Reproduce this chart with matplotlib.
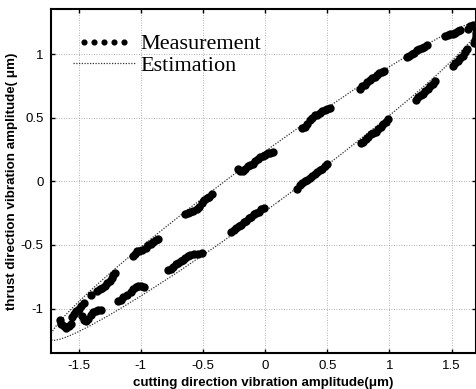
import matplotlib
matplotlib.use("Agg")
import matplotlib.pyplot as plt
from matplotlib.patches import Ellipse
from matplotlib.lines import Line2D
from matplotlib.legend_handler import HandlerLine2D

plt.rcParams['axes.unicode_minus'] = False

upper_x = [1.63, 1.65, 1.67, 1.69, 1.70, 1.70, 1.70, 1.69, 1.68,
           1.45, 1.47, 1.49, 1.51, 1.53, 1.55, 1.57,
           1.14, 1.16, 1.18, 1.20, 1.22, 1.24, 1.26, 1.28, 1.30,
           0.76, 0.78, 0.80, 0.82, 0.84, 0.86, 0.88, 0.90, 0.92, 0.94, 0.96,
           0.30, 0.32, 0.34, 0.36, 0.38, 0.40, 0.42, 0.44, 0.46, 0.48, 0.50, 0.52,
           -0.22, -0.20, -0.18, -0.16, -0.14, -0.12, -0.10, -0.08, -0.06, -0.04, -0.02, 0.00, 0.02, 0.04, 0.06,
           -0.64, -0.62, -0.60, -0.58, -0.55, -0.53, -0.51, -0.49, -0.47, -0.45, -0.43,
           -1.06, -1.05, -1.03, -1.01, -0.99, -0.96, -0.94, -0.92, -0.90, -0.88, -0.86,
           -1.40, -1.35, -1.33, -1.31, -1.29, -1.27, -1.25, -1.23, -1.22, -1.21,
           -1.65, -1.64, -1.62, -1.60, -1.58, -1.56, -1.55, -1.54, -1.52, -1.50, -1.48, -1.46]
upper_y = [1.20, 1.22, 1.23, 1.22, 1.20, 1.17, 1.14, 1.11, 1.09,
           1.14, 1.15, 1.16, 1.16, 1.17, 1.18, 1.19,
           0.98, 0.99, 1.00, 1.01, 1.03, 1.04, 1.05, 1.06, 1.07,
           0.73, 0.75, 0.76, 0.78, 0.80, 0.81, 0.82, 0.84, 0.85, 0.86, 0.87,
           0.42, 0.43, 0.45, 0.48, 0.50, 0.52, 0.52, 0.54, 0.55, 0.56, 0.57, 0.58,
           0.10, 0.08, 0.08, 0.10, 0.12, 0.13, 0.14, 0.16, 0.18, 0.19, 0.20, 0.21, 0.22, 0.22, 0.23,
           -0.26, -0.25, -0.24, -0.23, -0.22, -0.20, -0.17, -0.15, -0.13, -0.12, -0.10,
           -0.59, -0.57, -0.55, -0.55, -0.54, -0.52, -0.50, -0.49, -0.48, -0.46, -0.45,
           -0.89, -0.86, -0.85, -0.84, -0.82, -0.80, -0.78, -0.76, -0.74, -0.72,
           -1.09, -1.12, -1.14, -1.15, -1.14, -1.12, -1.07, -1.04, -1.02, -1.00, -0.98, -0.96]

lower_x = [1.51, 1.53, 1.55, 1.57, 1.59, 1.61, 1.62,
           1.21, 1.23, 1.25, 1.27, 1.29, 1.31, 1.33, 1.35, 1.37,
           0.77, 0.79, 0.81, 0.83, 0.85, 0.87, 0.89, 0.91, 0.93, 0.95, 0.97, 0.99,
           0.26, 0.28, 0.30, 0.32, 0.34, 0.36, 0.38, 0.40, 0.42, 0.44, 0.46, 0.48, 0.50,
           -0.27, -0.25, -0.23, -0.21, -0.19, -0.17, -0.15, -0.13, -0.11, -0.09, -0.07, -0.05, -0.03, -0.01,
           -0.78, -0.76, -0.74, -0.72, -0.70, -0.68, -0.66, -0.64, -0.62, -0.60, -0.57, -0.54, -0.51,
           -1.18, -1.16, -1.14, -1.11, -1.08, -1.06, -1.04, -1.02, -1.00, -0.97,
           -1.47, -1.46, -1.44, -1.42, -1.40, -1.38, -1.36, -1.34, -1.32]
lower_y = [0.91, 0.93, 0.95, 0.97, 0.99, 1.02, 1.04,
           0.64, 0.66, 0.68, 0.69, 0.71, 0.73, 0.75, 0.77, 0.79,
           0.30, 0.31, 0.33, 0.35, 0.37, 0.38, 0.39, 0.41, 0.43, 0.45, 0.47, 0.49,
           -0.06, -0.03, -0.01, 0.00, 0.01, 0.03, 0.04, 0.06, 0.07, 0.09, 0.10, 0.12, 0.14,
           -0.40, -0.38, -0.37, -0.35, -0.34, -0.32, -0.31, -0.29, -0.28, -0.26, -0.25, -0.24, -0.22, -0.21,
           -0.70, -0.69, -0.67, -0.65, -0.64, -0.63, -0.62, -0.60, -0.59, -0.58, -0.57, -0.57, -0.56,
           -0.94, -0.93, -0.91, -0.89, -0.87, -0.85, -0.83, -0.82, -0.82, -0.83,
           -1.06, -1.09, -1.10, -1.08, -1.05, -1.03, -1.02, -1.01, -1.01]

# ---- Estimated orbit (ellipse) ----
est_center = (0.0, 0.0)
est_width = 4.25      # full major axis (data units)
est_height = 0.383    # full minor axis (data units)
est_angle = 35.7      # degrees, in data space

x_ticks = [-1.5, -1, -0.5, 0, 0.5, 1, 1.5]
x_tick_labels = ['-1.5', '-1', '-0.5', '0', '0.5', '1', '1.5']
y_ticks = [-1, -0.5, 0, 0.5, 1]
y_tick_labels = ['-1', '-0.5', '0', '0.5', '1']

fig = plt.figure(figsize=(4.77, 3.89), dpi=100)
ax = fig.add_axes([0.106, 0.0925, 0.8916, 0.884])

ax.plot(upper_x, upper_y, 'o', color='black', ms=5.0, mec='black', zorder=3)
ax.plot(lower_x, lower_y, 'o', color='black', ms=5.0, mec='black', zorder=3)

ell = Ellipse(est_center, est_width, height=est_height, angle=est_angle,
              fill=False, edgecolor='#333333', linewidth=0.9,
              linestyle=(0, (1, 1.2)), zorder=2)
ax.add_patch(ell)

ax.set_xlim(-1.725, 1.695)
ax.set_ylim(-1.35, 1.355)
ax.set_xticks(x_ticks)
ax.set_xticklabels(x_tick_labels)
ax.set_yticks(y_ticks)
ax.set_yticklabels(y_tick_labels)

ax.grid(True, linestyle=(0, (1, 2)), color='#999999', linewidth=0.6)
ax.tick_params(direction='in', top=True, right=True, length=3, width=1,
               labelsize=9.5, pad=5)
for lab in ax.get_xticklabels() + ax.get_yticklabels():
    lab.set_family('Liberation Sans')
for sp in ax.spines.values():
    sp.set_linewidth(1.5)

ax.set_xlabel('cutting direction vibration amplitude(\u03bcm)', fontsize=9.6,
              fontweight='bold', family='Liberation Sans', labelpad=3.5)
ax.set_ylabel('thrust direction vibration amplitude( \u03bcm)', fontsize=9.6,
              fontweight='bold', family='Liberation Sans', labelpad=2)

h_meas = Line2D([], [], linestyle='none', marker='o', color='black', ms=3.4)
h_est = Line2D([], [], linestyle=(0, (1, 1.2)), color='#333333', linewidth=0.9)
leg = ax.legend([h_meas, h_est], ['Measurement', 'Estimation'],
                loc='upper left', bbox_to_anchor=(0.052, 0.928), frameon=False,
                borderpad=0, borderaxespad=0,
                handlelength=2.8, handletextpad=0.25,
                labelspacing=0.05,
                handler_map={h_meas: HandlerLine2D(numpoints=5, marker_pad=0.5)},
                prop={'family': 'Liberation Serif', 'size': 16})

fig.savefig('out.png', dpi=100)
